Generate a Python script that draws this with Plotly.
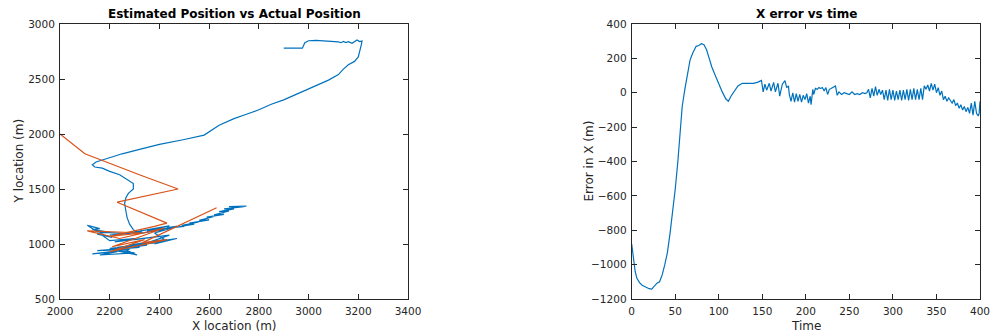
import plotly.graph_objects as go

# ---------------- Left: trajectories ----------------
est_x = [2900, 2975, 2985, 3000, 3030, 3060, 3090, 3120, 3130, 3140, 3150, 3160, 3175, 3185, 3195, 3205, 3215,
         3212, 3208, 3205, 3200, 3185, 3160, 3140, 3120, 3080, 3020, 2960, 2900, 2850, 2800, 2750, 2700, 2640,
         2580, 2500, 2400, 2320, 2250, 2180, 2145, 2130, 2140, 2170, 2200, 2240, 2270, 2295, 2295, 2275, 2265,
         2260, 2265, 2270, 2280, 2295, 2315,
         2420, 2330, 2450, 2350, 2440, 2300, 2380, 2250, 2330, 2200, 2260, 2150, 2110, 2160, 2130, 2190, 2150,
         2210, 2170,
         2200, 2300, 2220, 2350, 2260, 2400, 2300, 2440, 2350, 2470, 2380, 2420,
         2300, 2200, 2320, 2150, 2280, 2130, 2230, 2160, 2300, 2200, 2310, 2250, 2350, 2230, 2380, 2280, 2420,
         2380, 2460, 2420, 2470,
         2430, 2500, 2460, 2540, 2490, 2560, 2520, 2600, 2560, 2620, 2590, 2660, 2620, 2680, 2640, 2700, 2660,
         2740, 2680, 2750]
est_y = [2780, 2780, 2830, 2848, 2852, 2848, 2845, 2838, 2830, 2842, 2832, 2840, 2825, 2838, 2855, 2840, 2845,
         2810, 2770, 2740, 2700, 2660, 2630, 2590, 2540, 2490, 2430, 2370, 2310, 2270, 2220, 2180, 2140, 2080,
         1990, 1950, 1905, 1860, 1820, 1770, 1745, 1720, 1700, 1690, 1660, 1630, 1590, 1550, 1500, 1460, 1420,
         1370, 1300, 1240, 1180, 1130, 1095,
         1130, 1100, 1150, 1120, 1165, 1110, 1135, 1090, 1110, 1080, 1095, 1110, 1170, 1140, 1130, 1110, 1090,
         1060, 1080,
         1030, 1050, 1020, 1060, 1030, 1070, 1040, 1080, 1010, 1050, 1000, 1030,
         980, 960, 970, 940, 950, 910, 930, 900, 920, 950, 900, 960, 990, 970, 1010, 990, 1040,
         1100, 1150, 1140, 1160,
         1150, 1160, 1150, 1180, 1170, 1200, 1190, 1220, 1215, 1250, 1245, 1270, 1265, 1300, 1295, 1320, 1320,
         1340, 1340, 1345]

act_x = [2000, 2100, 2330, 2475, 2230, 2430, 2380, 2200, 2330, 2110, 2240, 2420, 2210, 2340, 2200, 2430, 2330, 2630]
act_y = [2000, 1820, 1620, 1500, 1380, 1190, 1160, 1070, 1100, 1120, 1050, 1145, 975, 1040, 930, 1040, 1010, 1330]

# ---------------- Right: X error vs time ----------------
t_err = [0, 2, 4, 6, 9, 12, 16, 20, 23, 26, 29, 32, 35, 38, 41, 44, 47, 50, 53, 56, 58, 61, 64, 67, 70, 74, 77,
         80, 83, 86, 89, 92, 96, 100, 104, 108, 111, 114, 118, 122, 127, 133, 140, 145, 149,
         151, 153, 155, 158, 160, 163, 165, 168, 170, 173, 176, 178, 180,
         181, 183, 185, 187, 189, 191, 193, 195, 197, 199, 201, 203, 205, 206, 208,
         209, 211, 213, 215, 217, 219, 221, 223, 225, 227, 229, 232, 234, 236,
         238, 241, 244, 247, 250, 253, 256, 259, 262, 265, 268, 270,
         272, 274, 276, 278, 280, 282, 284, 286, 288, 290, 292, 294, 296, 298, 300, 302, 304, 306, 308, 310,
         312, 314, 316, 318, 320, 322, 324, 326, 328, 330, 332, 334,
         336, 338, 340, 342, 344, 346, 348, 350, 352,
         354, 356, 358, 360, 362, 364, 366, 368, 370, 372, 374, 376, 378, 380, 382, 384, 386, 388, 390, 392,
         394, 396, 398, 399, 400]
x_err = [-880, -970, -1040, -1080, -1105, -1120, -1132, -1140, -1142, -1125, -1108, -1100, -1060, -1000, -930,
         -820, -700, -560, -400, -200, -80, 20, 100, 190, 230, 270, 275, 285, 280, 250, 200, 150, 100, 50, 5,
         -35, -50, -20, 10, 40, 55, 55, 55, 62, 72,
         5, 50, 15, 55, 10, 60, 5, 55, -20, 50, 70, 30, 40,
         -10, -50, 0, -55, -5, -50, -10, -55, -15, -40, -5, -60, -20, -70, 20,
         -10, 25, 20, 30, 25, 30, 10, 30, -10, 20, 25, 35, 40, -15,
         5, -10, 0, -5, -10, 5, -10, -5, -10, 0, -5, 0,
         20, -30, 25, -20, 35, -15, 20, -10, 15, -40, 15, -45, 20, -40, 15, -45, 10, -40, 15, -45,
         15, -40, 20, -45, 20, -40, 25, -40, 20, -40, 25, -40,
         40, 20, 45, 10, 55, 15, 50, 0, 30,
         -15, 10, -40, -20, -50, -30, -45, -60, -40, -75, -60, -90, -70, -100, -80, -110, -85, -120, -60, -130,
         -50, -120, -135, -120, -50]

BLUE = "#0072BD"
ORANGE = "#D95319"
AX = "#262626"
FONT = "DejaVu Sans"
W, H = 992, 335

fig = go.Figure()
fig.add_trace(go.Scatter(x=est_x, y=est_y, mode="lines", line=dict(color=BLUE, width=1.2),
                         xaxis="x", yaxis="y", showlegend=False))
fig.add_trace(go.Scatter(x=act_x, y=act_y, mode="lines", line=dict(color=ORANGE, width=1.2),
                         xaxis="x", yaxis="y", showlegend=False))
fig.add_trace(go.Scatter(x=t_err, y=x_err, mode="lines", line=dict(color=BLUE, width=1.2),
                         xaxis="x2", yaxis="y2", showlegend=False))

def axis(domain, rng, dtick, anchor):
    return dict(domain=domain, range=rng, dtick=dtick, tick0=rng[0], showgrid=False, zeroline=False,
                showline=True, linecolor=AX, linewidth=1, mirror="ticks", ticks="inside", ticklen=5,
                tickcolor=AX, tickfont=dict(family=FONT, size=10.5, color=AX), ticklabelstandoff=2,
                anchor=anchor, automargin=False)

def ann(text, xpx, ypx, size, bold=False, angle=0):
    return dict(text=f"<b>{text}</b>" if bold else text, x=xpx / W, y=1 - ypx / H,
                xref="paper", yref="paper", showarrow=False, xanchor="center", yanchor="middle",
                textangle=angle, font=dict(family=FONT, size=size, color="black" if bold else AX))

y0, y1 = 1 - 299 / H, 1 - 24 / H
fig.update_layout(
    width=W, height=H, margin=dict(l=0, r=0, t=0, b=0, autoexpand=False),
    paper_bgcolor="white", plot_bgcolor="white",
    xaxis=axis([60 / W, 408 / W], [2000, 3400], 200, "y"),
    yaxis=axis([y0, y1], [500, 3000], 500, "x"),
    xaxis2=axis([631.7 / W, 980 / W], [0, 400], 50, "y2"),
    yaxis2=axis([y0, y1], [-1200, 400], 200, "x2"),
    annotations=[
        ann("Estimated Position vs Actual Position", 234, 14, 12, bold=True),
        ann("X error vs time", 806, 14, 12, bold=True),
        ann("X location (m)", 234, 326, 12),
        ann("Time", 806, 326, 12),
        ann("Y location (m)", 18, 161.5, 12, angle=-90),
        ann("Error in X (m)", 588, 161.5, 12, angle=-90),
    ],
)

fig.write_html("out.html")
